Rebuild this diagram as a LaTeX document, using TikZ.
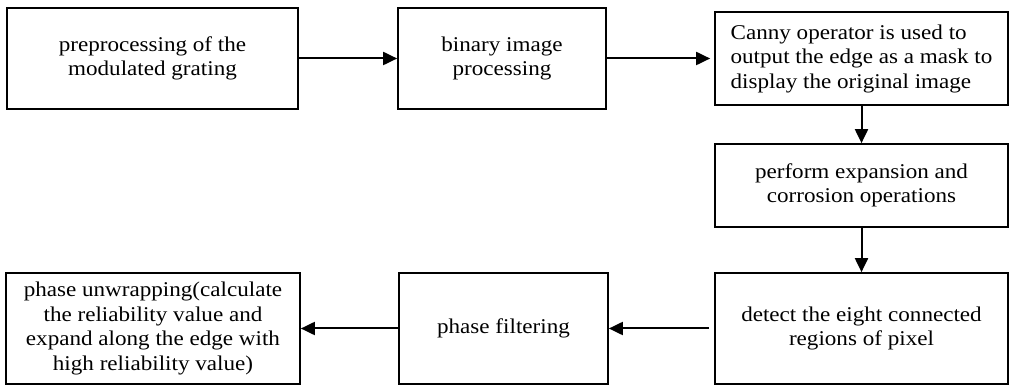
\documentclass[tikz,border=0pt]{standalone}
\usepackage{fontspec}
\setmainfont[FakeStretch=1.1]{Liberation Serif}
\usetikzlibrary{arrows.meta,positioning}

\begin{document}
\begin{tikzpicture}[x=1pt, y=-1pt,
    stage/.style={draw, line width=1.7pt, inner sep=0pt, align=center, font=\fontsize{21}{24.5}\selectfont},
    flow/.style={-{Triangle[length=14pt, width=13pt]}, line width=2pt}
  ]
    \useasboundingbox (0,0) rectangle (1010,387);

    % top row
    \node[stage, minimum width=291pt, minimum height=101pt] (prep) at (152.5,58.5) {preprocessing of the\\modulated grating};
    \node[stage, minimum width=208pt, minimum height=101pt] (binar) at (502,58.5) {binary image\\processing};
    \node[stage, align=left, minimum width=293pt, minimum height=93pt] (canny) at (861.5,58.5) {Canny operator is used to\\output the edge as a mask to\\display the original image};

    % right column
    \node[stage, minimum width=293pt, minimum height=83pt] (expand) at (861.5,185.5) {perform expansion and\\corrosion operations};
    \node[stage, minimum width=293pt, minimum height=111pt] (detect) at (861.5,328.5) {detect the eight connected\\regions of pixel};

    % bottom row
    \node[stage, minimum width=209pt, minimum height=111pt] (filt) at (503.5,328.5) {phase filtering};
    \node[stage, minimum width=294pt, minimum height=111pt] (unwrap) at (153,328.5) {phase unwrapping(calculate\\the reliability value and\\expand along the edge with\\high reliability value)};

    \draw[flow] (prep) -- (binar);
    \draw[flow, shorten >=4pt] (binar) -- (canny);
    \draw[flow] (canny) -- (expand);
    \draw[flow] (expand) -- (detect);
    \draw[flow, shorten <=5pt] (detect) -- (filt);
    \draw[flow] (filt) -- (unwrap);
\end{tikzpicture}
\end{document}
